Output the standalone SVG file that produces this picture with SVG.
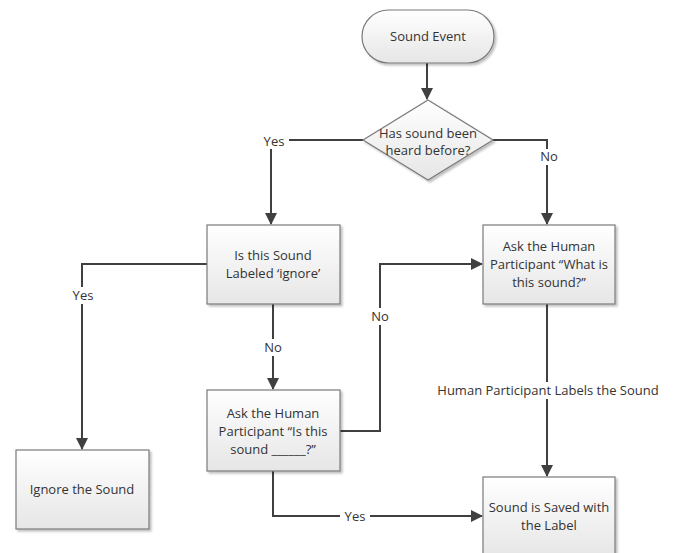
<svg xmlns="http://www.w3.org/2000/svg" width="673" height="553" viewBox="0 0 673 553">
<defs>
<linearGradient id="g" x1="0" y1="0" x2="0" y2="1"><stop offset="0" stop-color="#ffffff"/><stop offset="1" stop-color="#e6e6e6"/></linearGradient>
<filter id="sh" x="-10%" y="-10%" width="130%" height="130%"><feDropShadow dx="2" dy="2" stdDeviation="1.2" flood-color="#000" flood-opacity="0.25"/></filter>
<marker id="ah" markerWidth="12" markerHeight="12" refX="11" refY="6" orient="auto" markerUnits="userSpaceOnUse"><path d="M0,0 L12,6 L0,12 Z" fill="#404040"/></marker>
<style>
.n{fill:url(#g);stroke:#7a7a7a;stroke-width:1.2;filter:url(#sh)}
.t{font-family:"Open Sans","Liberation Sans",sans-serif;font-size:13px;fill:#333;text-anchor:middle}
.c{fill:none;stroke:#404040;stroke-width:2}
.lb{fill:#fff}
</style>
</defs>
<rect width="673" height="553" fill="#fff"/>
<g id="connectors">
<path class="c" d="M427,63 L427,99" marker-end="url(#ah)"/>
<path class="c" d="M363,140 L271,140 L271,224" marker-end="url(#ah)"/>
<path class="c" d="M493,140 L547,140 L547,224" marker-end="url(#ah)"/>
<path class="c" d="M207,264 L82,264 L82,449" marker-end="url(#ah)"/>
<path class="c" d="M273,304 L273,389" marker-end="url(#ah)"/>
<path class="c" d="M340,431 L380,431 L380,264 L482,264" marker-end="url(#ah)"/>
<path class="c" d="M273,471 L273,516 L482,516" marker-end="url(#ah)"/>
<path class="c" d="M547,304 L547,476" marker-end="url(#ah)"/>
<rect class="lb" x="259" y="133" width="30" height="16"/><text class="t" x="274" y="146">Yes</text>
<rect class="lb" x="538" y="149" width="22" height="16"/><text class="t" x="549" y="161">No</text>
<rect class="lb" x="68" y="287" width="29" height="17"/><text class="t" x="83" y="300">Yes</text>
<rect class="lb" x="262" y="339" width="22" height="17"/><text class="t" x="273" y="352">No</text>
<rect class="lb" x="369" y="308" width="22" height="17"/><text class="t" x="380" y="321">No</text>
<rect class="lb" x="340" y="508" width="30" height="17"/><text class="t" x="355" y="521">Yes</text>
<rect class="lb" x="434" y="382" width="228" height="17"/><text class="t" x="548" y="395">Human Participant Labels the Sound</text>
</g>
<g id="start"><rect class="n" x="362" y="10" width="132" height="53" rx="26.5"/><text class="t" x="428" y="41">Sound Event</text></g>
<g id="decision"><path class="n" d="M428,100 L493,140 L428,180 L363,140 Z"/><text class="t" x="428" y="138">Has sound been</text><text class="t" x="428" y="155">heard before?</text></g>
<g id="labeled"><rect class="n" x="207" y="225" width="133" height="79"/><text class="t" x="273" y="260">Is this Sound</text><text class="t" x="273" y="278">Labeled ‘ignore’</text></g>
<g id="askwhat"><rect class="n" x="483" y="225" width="132" height="79"/><text class="t" x="549" y="251">Ask the Human</text><text class="t" x="549" y="269">Participant “What is</text><text class="t" x="549" y="287">this sound?”</text></g>
<g id="ignore"><rect class="n" x="16" y="450" width="133" height="79"/><text class="t" x="82" y="494">Ignore the Sound</text></g>
<g id="askis"><rect class="n" x="207" y="390" width="133" height="81"/><text class="t" x="273" y="418">Ask the Human</text><text class="t" x="273" y="436">Participant “Is this</text><text class="t" x="273" y="454">sound ______?”</text></g>
<g id="saved"><rect class="n" x="483" y="477" width="132" height="80"/><text class="t" x="549" y="512">Sound is Saved with</text><text class="t" x="549" y="530">the Label</text></g>
</svg>
